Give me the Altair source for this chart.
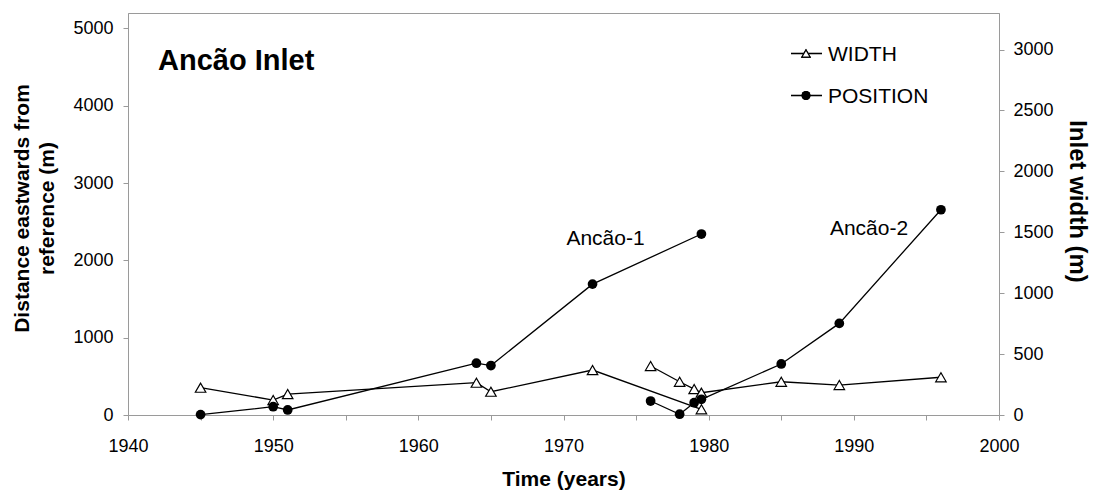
import altair as alt
import pandas as pd

# ---- data ----
inlet_1_years = [1945, 1950, 1951, 1964, 1965, 1972, 1979.5]
inlet_1_width = [224, 123, 172, 265, 191, 369, 47]
inlet_1_position = [5, 107, 65, 670, 640, 1693, 2341]

inlet_2_years = [1976, 1978, 1979, 1979.5, 1985, 1989, 1996]
inlet_2_width = [402, 273, 213, 183, 273, 246, 310]
inlet_2_position = [181, 10, 159, 203, 660, 1185, 2655]

annot_text = ["Ancão-1", "Ancão-2"]
annot_year = [1970.2, 1988.35]
annot_value = [2200, 2330]

legend_labels = ["WIDTH", "POSITION"]

rows = []
for name, yrs, w, p in [("Ancão-1", inlet_1_years, inlet_1_width, inlet_1_position),
                        ("Ancão-2", inlet_2_years, inlet_2_width, inlet_2_position)]:
    for a, b, c in zip(yrs, w, p):
        rows.append({"inlet": name, "year": a, "width": b, "position": c})
df = pd.DataFrame(rows)
annot_df = pd.DataFrame({"text": annot_text, "year": annot_year, "value": annot_value})

FONT = "Liberation Sans"
GREY = "#9a9a9a"

x_enc = alt.X(
    "year:Q",
    scale=alt.Scale(domain=[1940, 2000], nice=False, zero=False),
    axis=alt.Axis(
        values=list(range(1940, 2001, 5)),
        labelExpr="datum.value % 10 == 0 ? datum.label : ''",
        format="d",
        labelFlush=False,
        labelOverlap=False,
        title="Time (years)",
        labelPadding=17,
        titleY=70,
        titleBaseline="alphabetic",
        titleFontSize=21,
        titleFontWeight="bold",
    ),
)

y_width = alt.Y(
    "width:Q",
    scale=alt.Scale(domain=[0, 3300], nice=False),
    axis=alt.Axis(
        orient="right",
        values=list(range(0, 3001, 500)),
        format="d",
        title="Inlet width (m)",
        titleAngle=90,
        titleX=70,
        titleY=188,
        titleAlign="center",
        titleBaseline="alphabetic",
        titleFontSize=24,
        titleFontWeight="bold",
        labelPadding=9,
        labelFlush=False,
    ),
)

y_pos = alt.Y(
    "position:Q",
    scale=alt.Scale(domain=[0, 5200], nice=False),
    axis=alt.Axis(
        orient="left",
        values=list(range(0, 5001, 1000)),
        format="d",
        title=["Distance eastwards from", "reference (m)"],
        titleAngle=-90,
        titleX=-100,
        titleY=195,
        titleAlign="center",
        titleBaseline="alphabetic",
        titleLineHeight=25,
        titleFontSize=21,
        titleFontWeight="bold",
        labelPadding=10,
        labelFlush=False,
    ),
)

base = alt.Chart(df)

width_line = base.mark_line(color="black", strokeWidth=1.3).encode(x=x_enc, y=y_width, detail="inlet:N")
width_pts = base.mark_point(shape="triangle-up", size=110, filled=False, fill="white",
                            fillOpacity=1, stroke="black", strokeWidth=1.2, opacity=1).encode(x=x_enc, y=y_width)
width_layer = alt.layer(width_line, width_pts)

pos_line = base.mark_line(color="black", strokeWidth=1.3).encode(x=x_enc, y=y_pos, detail="inlet:N")
pos_pts = base.mark_circle(size=95, color="black", opacity=1).encode(x=x_enc, y=y_pos)
annot = alt.Chart(annot_df).mark_text(align="left", baseline="alphabetic", fontSize=21,
                                      font=FONT, color="black").encode(
    x=alt.X("year:Q", scale=alt.Scale(domain=[1940, 2000], nice=False, zero=False)),
    y=alt.Y("value:Q", scale=alt.Scale(domain=[0, 5200], nice=False)),
    text="text:N",
)
pos_layer = alt.layer(pos_line, pos_pts, annot)

# chart title inside the plot
title_df = pd.DataFrame({"t": ["Ancão Inlet"]})
title_mark = alt.Chart(title_df).mark_text(align="left", baseline="alphabetic", fontSize=29,
                                           fontWeight="bold", font=FONT, color="black").encode(
    x=alt.value(30), y=alt.value(56.5), text="t:N")

# legend (decoration)
leg_df = pd.DataFrame({"label": legend_labels})
leg_w_rule = alt.Chart(leg_df).mark_rule(color="black", strokeWidth=1.3).encode(
    x=alt.value(663), x2=alt.value(694), y=alt.value(40.5))
leg_w_sym = alt.Chart(leg_df).mark_point(shape="triangle-up", size=70, fill="white", fillOpacity=1,
                                         stroke="black", strokeWidth=1.1, opacity=1).encode(
    x=alt.value(678), y=alt.value(40.5))
leg_p_rule = alt.Chart(leg_df).mark_rule(color="black", strokeWidth=1.3).encode(
    x=alt.value(663), x2=alt.value(694), y=alt.value(82.5))
leg_p_sym = alt.Chart(leg_df).mark_circle(size=80, color="black", opacity=1).encode(
    x=alt.value(678), y=alt.value(82.5))
leg_w_text = alt.Chart(pd.DataFrame({"label": [legend_labels[0]]})).mark_text(
    align="left", baseline="alphabetic", fontSize=21, font=FONT, color="black").encode(
    x=alt.value(700), y=alt.value(47.5), text="label:N")
leg_p_text = alt.Chart(pd.DataFrame({"label": [legend_labels[1]]})).mark_text(
    align="left", baseline="alphabetic", fontSize=21, font=FONT, color="black").encode(
    x=alt.value(700), y=alt.value(89.5), text="label:N")

chart = alt.layer(
    width_layer, pos_layer, title_mark,
    leg_w_rule, leg_w_sym, leg_p_rule, leg_p_sym, leg_w_text, leg_p_text,
).resolve_scale(y="independent").properties(
    width=871, height=402,
    autosize=alt.AutoSizeParams(type="none"),
    padding={"left": 128, "top": 13, "right": 99, "bottom": 76},
    background="white",
).configure(font=FONT).configure_view(
    stroke=GREY, strokeWidth=1
).configure_axis(
    grid=False,
    domainColor=GREY,
    tickColor=GREY,
    tickSize=5,
    labelFont=FONT,
    labelFontSize=18,
    labelColor="black",
    titleFont=FONT,
    titleColor="black",
)

chart.save("out.html", embed_options={"renderer": "svg", "actions": False})
